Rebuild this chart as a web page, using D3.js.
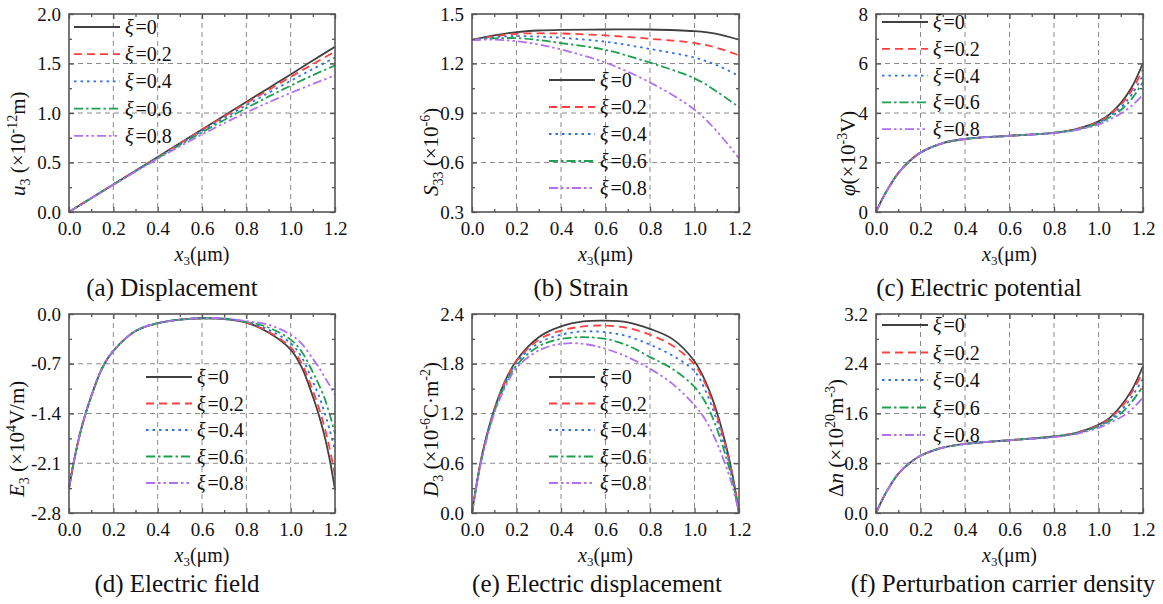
<!DOCTYPE html>
<html>
<head>
<meta charset="utf-8">
<script src="https://cdn.jsdelivr.net/npm/d3@7"></script>
<style>
  body { margin: 0; background: #fff; }
  svg { display: block; font-family: "Liberation Serif", "Times New Roman", serif; }
</style>
</head>
<body>
<svg id="chart" width="1163" height="604"></svg>
<script>
// series labels and styles
const xiLabels = ["0", "0.2", "0.4", "0.6", "0.8"];
const colors = ["#404040", "#ff4040", "#2f6fe8", "#1fa050", "#b070f0"];
const dashes = [null, "8,5", "2.5,4", "9,3,2.5,3", "9,3,2.5,3,2.5,3"];
const xTicks = [0, 0.2, 0.4, 0.6, 0.8, 1.0, 1.2];

// (a) displacement
const xA = [0, 0.1, 0.2, 0.3, 0.4, 0.5, 0.6, 0.7, 0.8, 0.9, 1.0, 1.1, 1.2];
const uA = [
  [0, 0.139, 0.278, 0.417, 0.556, 0.695, 0.834, 0.973, 1.112, 1.251, 1.39, 1.53, 1.67],
  [0, 0.139, 0.278, 0.416, 0.554, 0.692, 0.829, 0.965, 1.10, 1.233, 1.365, 1.494, 1.62],
  [0, 0.139, 0.277, 0.415, 0.551, 0.686, 0.819, 0.950, 1.078, 1.203, 1.325, 1.444, 1.56],
  [0, 0.139, 0.276, 0.412, 0.546, 0.677, 0.805, 0.929, 1.049, 1.165, 1.276, 1.382, 1.48],
  [0, 0.138, 0.274, 0.408, 0.538, 0.663, 0.783, 0.897, 1.005, 1.107, 1.203, 1.293, 1.38]
];

// (b) strain
const xB = [0, 0.1, 0.2, 0.3, 0.4, 0.6, 0.8, 1.0, 1.1, 1.2];
const sB = [
  [1.342, 1.37, 1.39, 1.40, 1.404, 1.406, 1.406, 1.396, 1.38, 1.344],
  [1.342, 1.365, 1.38, 1.383, 1.382, 1.37, 1.35, 1.324, 1.295, 1.25],
  [1.342, 1.36, 1.366, 1.363, 1.356, 1.332, 1.288, 1.236, 1.19, 1.124],
  [1.342, 1.352, 1.354, 1.342, 1.324, 1.282, 1.205, 1.11, 1.03, 0.935],
  [1.342, 1.345, 1.335, 1.315, 1.285, 1.205, 1.085, 0.92, 0.79, 0.625]
];

// (c) electric potential
const xC = [0, 0.025, 0.05, 0.1, 0.15, 0.2, 0.3, 0.4, 0.6, 0.8, 0.9, 1.0, 1.05, 1.1, 1.15, 1.2];
const phiC = [
  [0, 0.47, 0.88, 1.57, 2.05, 2.4, 2.78, 2.95, 3.08, 3.2, 3.35, 3.66, 3.95, 4.4, 5.05, 6.02],
  [0, 0.47, 0.88, 1.57, 2.05, 2.4, 2.78, 2.95, 3.08, 3.2, 3.35, 3.64, 3.92, 4.33, 4.92, 5.77],
  [0, 0.47, 0.88, 1.57, 2.05, 2.4, 2.78, 2.95, 3.08, 3.2, 3.34, 3.61, 3.87, 4.22, 4.75, 5.53],
  [0, 0.47, 0.88, 1.57, 2.05, 2.4, 2.78, 2.95, 3.08, 3.2, 3.33, 3.58, 3.82, 4.12, 4.58, 5.25],
  [0, 0.47, 0.88, 1.57, 2.05, 2.4, 2.78, 2.95, 3.08, 3.19, 3.31, 3.53, 3.73, 3.98, 4.3, 4.73]
];

// (d) electric field
const xD = [0, 0.025, 0.05, 0.075, 0.1, 0.15, 0.2, 0.3, 0.4, 0.5, 0.6, 0.7, 0.8, 0.9, 1.0, 1.05, 1.1, 1.125, 1.15, 1.175, 1.2];
const eD = [
  [-2.45, -2.03, -1.68, -1.40, -1.16, -0.76, -0.52, -0.24, -0.13, -0.08, -0.06, -0.07, -0.12, -0.26, -0.5, -0.75, -1.16, -1.40, -1.68, -2.03, -2.47],
  [-2.45, -2.03, -1.68, -1.40, -1.16, -0.76, -0.52, -0.24, -0.13, -0.08, -0.06, -0.07, -0.12, -0.25, -0.47, -0.7, -1.08, -1.3, -1.56, -1.88, -2.27],
  [-2.45, -2.03, -1.68, -1.40, -1.16, -0.76, -0.52, -0.24, -0.13, -0.08, -0.06, -0.07, -0.115, -0.22, -0.41, -0.61, -0.95, -1.13, -1.36, -1.62, -1.93],
  [-2.45, -2.03, -1.68, -1.40, -1.16, -0.76, -0.52, -0.24, -0.13, -0.08, -0.06, -0.065, -0.11, -0.19, -0.36, -0.53, -0.82, -0.98, -1.16, -1.4, -1.68],
  [-2.45, -2.03, -1.68, -1.40, -1.16, -0.76, -0.52, -0.24, -0.13, -0.08, -0.06, -0.06, -0.1, -0.15, -0.29, -0.42, -0.63, -0.74, -0.87, -1.0, -1.14]
];

// (e) electric displacement
const xE = [0, 0.025, 0.05, 0.1, 0.15, 0.2, 0.3, 0.4, 0.5, 0.6, 0.7, 0.8, 0.9, 1.0, 1.05, 1.1, 1.15, 1.175, 1.2];
const dE = [
  [0, 0.42, 0.76, 1.25, 1.6, 1.84, 2.12, 2.25, 2.31, 2.32, 2.3, 2.22, 2.1, 1.83, 1.58, 1.22, 0.72, 0.4, 0],
  [0, 0.41, 0.75, 1.24, 1.59, 1.83, 2.09, 2.2, 2.25, 2.26, 2.23, 2.15, 2.02, 1.79, 1.55, 1.18, 0.7, 0.39, 0],
  [0, 0.41, 0.74, 1.23, 1.57, 1.81, 2.05, 2.15, 2.19, 2.18, 2.13, 2.03, 1.9, 1.71, 1.47, 1.12, 0.66, 0.37, 0],
  [0, 0.4, 0.73, 1.22, 1.55, 1.78, 2.01, 2.1, 2.12, 2.1, 2.02, 1.88, 1.74, 1.52, 1.33, 1.02, 0.6, 0.34, 0],
  [0, 0.4, 0.72, 1.2, 1.52, 1.75, 1.96, 2.04, 2.04, 1.98, 1.88, 1.74, 1.56, 1.3, 1.12, 0.85, 0.5, 0.28, 0]
];

// (f) perturbation carrier density
const xF = [0, 0.025, 0.05, 0.1, 0.15, 0.2, 0.3, 0.4, 0.6, 0.8, 0.9, 1.0, 1.05, 1.1, 1.15, 1.2];
const nF = [
  [0, 0.19, 0.36, 0.63, 0.8, 0.92, 1.05, 1.11, 1.17, 1.23, 1.29, 1.42, 1.53, 1.72, 1.98, 2.36],
  [0, 0.19, 0.36, 0.63, 0.8, 0.92, 1.05, 1.11, 1.17, 1.23, 1.29, 1.41, 1.52, 1.69, 1.94, 2.27],
  [0, 0.19, 0.36, 0.63, 0.8, 0.92, 1.05, 1.11, 1.17, 1.23, 1.29, 1.40, 1.50, 1.64, 1.87, 2.16],
  [0, 0.19, 0.36, 0.63, 0.8, 0.92, 1.05, 1.11, 1.17, 1.23, 1.28, 1.39, 1.48, 1.60, 1.79, 2.04],
  [0, 0.19, 0.36, 0.63, 0.8, 0.92, 1.05, 1.11, 1.17, 1.22, 1.27, 1.37, 1.45, 1.54, 1.67, 1.86]
];

// y tick values
const yTicksA = [0, 0.5, 1.0, 1.5, 2.0];
const yTicksB = [0.3, 0.6, 0.9, 1.2, 1.5];
const yTicksC = [0, 2, 4, 6, 8];
const yTicksD = [-2.8, -2.1, -1.4, -0.7, 0.0];
const yTicksE = [0, 0.6, 1.2, 1.8, 2.4];
const yTicksF = [0, 0.8, 1.6, 2.4, 3.2];

// y axis labels as text pieces
const yLabelA = [["u", "i"], ["3", "sub"], [" (×10"], ["-12", "sup"], ["m)"]];
const yLabelB = [["S", "i"], ["33", "sub"], [" (×10"], ["-6", "sup"], [")"]];
const yLabelC = [["φ", "i"], ["(×10"], ["-3", "sup"], ["V)"]];
const yLabelD = [["E", "i"], ["3", "sub"], [" (×10"], ["4", "sup"], ["V/m)"]];
const yLabelE = [["D", "i"], ["3", "sub"], [" (×10"], ["-6", "sup"], ["C·m"], ["-2", "sup"], [")"]];
const yLabelF = [["Δ"], ["n", "i"], [" (×10"], ["20", "sup"], ["m"], ["-3", "sup"], [")"]];

const captions = ["(a) Displacement", "(b) Strain", "(c) Electric potential",
  "(d) Electric field", "(e) Electric displacement", "(f) Perturbation carrier density"];

const panels = [
  { xs: xA, ys: uA, yTicks: yTicksA, fmt: 1, label: yLabelA, box: [69, 14, 335, 212], labX: 25, leg: [74, 27, 27.2], cap: 172 },
  { xs: xB, ys: sB, yTicks: yTicksB, fmt: 1, label: yLabelB, box: [472, 14, 739, 212], labX: 438, leg: [549, 80, 27], cap: 581 },
  { xs: xC, ys: phiC, yTicks: yTicksC, fmt: 0, label: yLabelC, box: [876, 14, 1143, 212], labX: 855, leg: [882, 22, 26.8], cap: 979 },
  { xs: xD, ys: eD, yTicks: yTicksD, fmt: 1, label: yLabelD, box: [69, 314, 335, 513], labX: 24, leg: [146, 377, 26.5], cap: 177 },
  { xs: xE, ys: dE, yTicks: yTicksE, fmt: 1, label: yLabelE, box: [472, 314, 739, 513], labX: 438, leg: [549, 377, 26.5], cap: 597 },
  { xs: xF, ys: nF, yTicks: yTicksF, fmt: 1, label: yLabelF, box: [876, 314, 1143, 513], labX: 843, leg: [882, 325, 27.5], cap: 1003 }
];

const svg = d3.select("#chart");
const frameColor = "#555";
const tickFont = 19;

panels.forEach((p, pi) => {
  const [x0, y0, x1, y1] = p.box;
  const x = d3.scaleLinear().domain([0, 1.2]).range([x0, x1]);
  const yExt = d3.extent(p.yTicks);
  const y = d3.scaleLinear().domain(yExt).range([y1, y0]);
  const g = svg.append("g");

  // dashed grid at inner major ticks
  g.append("g").selectAll("line")
    .data(xTicks.slice(1, -1))
    .enter().append("line")
    .attr("x1", d => x(d)).attr("x2", d => x(d))
    .attr("y1", y0).attr("y2", y1)
    .attr("stroke", "#8a8a8a").attr("stroke-width", 1).attr("stroke-dasharray", "5,4");
  g.append("g").selectAll("line")
    .data(p.yTicks.slice(1, -1))
    .enter().append("line")
    .attr("y1", d => y(d)).attr("y2", d => y(d))
    .attr("x1", x0).attr("x2", x1)
    .attr("stroke", "#8a8a8a").attr("stroke-width", 1).attr("stroke-dasharray", "5,4");

  // curves
  const line = d3.line()
    .x((d, i) => x(p.xs[i]))
    .y(d => y(d))
    .curve(d3.curveCatmullRom.alpha(0.5));
  g.append("g").selectAll("path")
    .data(p.ys)
    .enter().append("path")
    .attr("d", d => line(d))
    .attr("fill", "none")
    .attr("stroke", (d, i) => colors[i])
    .attr("stroke-width", 1.8)
    .attr("stroke-dasharray", (d, i) => dashes[i]);

  // axes with inward ticks
  const yStep = p.yTicks[1] - p.yTicks[0];
  const yMinor = p.yTicks.slice(0, -1).map(v => v + yStep / 2);
  const xMinor = d3.range(0.1, 1.2, 0.2);
  const fmtY = v => (Math.abs(v) < 1e-9 ? 0 : v).toFixed(p.fmt);

  g.append("g").attr("transform", `translate(0,${y1})`)
    .call(d3.axisBottom(x).tickValues(xTicks).tickSize(-5).tickPadding(10).tickFormat(d => d.toFixed(1)));
  g.append("g").attr("transform", `translate(${x0},0)`)
    .call(d3.axisLeft(y).tickValues(p.yTicks).tickSize(-5).tickPadding(8).tickFormat(fmtY));
  g.append("g").attr("transform", `translate(0,${y0})`)
    .call(d3.axisTop(x).tickValues(xTicks).tickSize(-5).tickFormat(""));
  g.append("g").attr("transform", `translate(${x1},0)`)
    .call(d3.axisRight(y).tickValues(p.yTicks).tickSize(-5).tickFormat(""));
  g.append("g").attr("transform", `translate(0,${y1})`)
    .call(d3.axisBottom(x).tickValues(xMinor).tickSize(-3).tickFormat(""));
  g.append("g").attr("transform", `translate(0,${y0})`)
    .call(d3.axisTop(x).tickValues(xMinor).tickSize(-3).tickFormat(""));
  g.append("g").attr("transform", `translate(${x0},0)`)
    .call(d3.axisLeft(y).tickValues(yMinor).tickSize(-3).tickFormat(""));
  g.append("g").attr("transform", `translate(${x1},0)`)
    .call(d3.axisRight(y).tickValues(yMinor).tickSize(-3).tickFormat(""));

  g.selectAll(".domain").remove();
  g.selectAll(".tick line").attr("stroke", frameColor).attr("stroke-width", 1.3);
  g.selectAll(".tick text")
    .attr("fill", "#111")
    .style("font-family", "'Liberation Serif', 'Times New Roman', serif")
    .style("font-size", tickFont + "px");

  // frame
  g.append("rect")
    .attr("x", x0).attr("y", y0)
    .attr("width", x1 - x0).attr("height", y1 - y0)
    .attr("fill", "none").attr("stroke", frameColor).attr("stroke-width", 1.6);

  // x axis title
  const xt = g.append("text")
    .attr("x", (x0 + x1) / 2).attr("y", y1 + 49)
    .attr("text-anchor", "middle").attr("font-size", 20).attr("fill", "#111");
  xt.append("tspan").attr("font-style", "italic").text("x");
  xt.append("tspan").attr("font-size", 13).attr("dy", 4).text("3");
  xt.append("tspan").attr("dy", -4).text("(μm)");

  // y axis title, rotated
  const yt = g.append("text")
    .attr("transform", `translate(${p.labX},${y1 - 16}) rotate(-90)`)
    .attr("text-anchor", "start").attr("font-size", 21).attr("fill", "#111");
  let shift = 0;
  p.label.forEach(([t, kind]) => {
    const ts = yt.append("tspan").text(t);
    let target = 0;
    if (kind === "i") ts.attr("font-style", "italic");
    if (kind === "sub") { ts.attr("font-size", 14); target = 5; }
    if (kind === "sup") { ts.attr("font-size", 14); target = -8; }
    ts.attr("dy", target - shift);
    shift = target;
  });

  // legend
  const [lx, ly, ls] = p.leg;
  const leg = g.append("g");
  xiLabels.forEach((lab, i) => {
    const yy = ly + i * ls;
    leg.append("line")
      .attr("x1", lx).attr("x2", lx + 46)
      .attr("y1", yy).attr("y2", yy)
      .attr("stroke", colors[i]).attr("stroke-width", 1.8)
      .attr("stroke-dasharray", dashes[i]);
    const t = leg.append("text")
      .attr("x", lx + 51).attr("y", yy + 7)
      .attr("font-size", 20).attr("fill", "#111");
    t.append("tspan").attr("font-style", "italic").text("ξ");
    t.append("tspan").attr("dx", 2).text("=" + lab);
  });

  // caption
  g.append("text")
    .attr("x", p.cap).attr("y", y1 + 84 - (pi >= 3 ? 5 : 0))
    .attr("text-anchor", "middle").attr("font-size", 25).attr("fill", "#111")
    .text(captions[pi]);
});
</script>
</body>
</html>
